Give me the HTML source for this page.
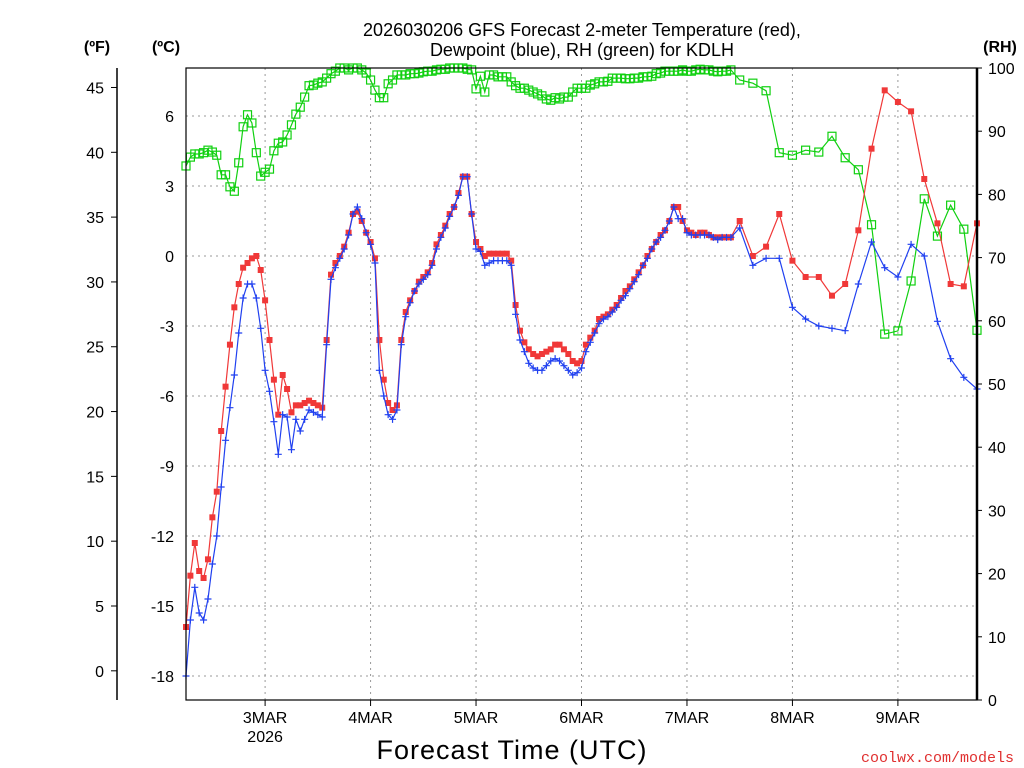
<!DOCTYPE html>
<html><head><meta charset="utf-8"><style>
html,body{margin:0;padding:0;background:#fff;}
svg{display:block;font-family:"Liberation Sans",sans-serif;}
</style></head><body>
<svg id="chart" width="1024" height="768" viewBox="0 0 1024 768">
<rect x="0" y="0" width="1024" height="768" fill="#fff"/>
<g id="grid"></g>
<g id="series"></g>
<g id="axes"></g>
<text x="582" y="36" text-anchor="middle" font-size="18">2026030206 GFS Forecast 2-meter Temperature (red),</text>
<text x="582" y="56" text-anchor="middle" font-size="18">Dewpoint (blue), RH (green) for KDLH</text>
<text x="97" y="52" text-anchor="middle" font-size="16" font-weight="bold">(ºF)</text>
<text x="166" y="52" text-anchor="middle" font-size="16" font-weight="bold">(ºC)</text>
<text x="1000" y="52" text-anchor="middle" font-size="16" font-weight="bold">(RH)</text>
<text x="512" y="759" text-anchor="middle" font-size="27" letter-spacing="1">Forecast Time (UTC)</text>
<text x="1014" y="762" text-anchor="end" font-size="15" fill="#e03030" font-family="Liberation Mono, monospace">coolwx.com/models</text>
</svg>
<script>
const tempC = [
-15.9,-13.7,-12.3,-13.5,-13.8,-13.0,-11.2,-10.1,-7.5,-5.6,
-3.8,-2.2,-1.2,-0.5,-0.3,-0.1,0.0,-0.6,-1.9,-3.6,
-5.3,-6.8,-5.1,-5.7,-6.7,-6.4,-6.4,-6.3,-6.2,-6.3,
-6.4,-6.5,-3.6,-0.8,-0.3,0.0,0.4,1.0,1.8,1.9,
1.5,1.0,0.6,-0.1,-3.6,-5.3,-6.3,-6.6,-6.4,-3.6,
-2.4,-1.9,-1.5,-1.1,-0.9,-0.7,-0.3,0.5,0.9,1.3,
1.8,2.1,2.7,3.4,3.4,1.8,0.6,0.3,0.0,0.1,
0.1,0.1,0.1,0.1,-0.2,-2.1,-3.2,-3.7,-4.0,-4.2,
-4.3,-4.2,-4.1,-4.0,-3.8,-3.8,-4.0,-4.2,-4.5,-4.6,
-4.5,-3.8,-3.5,-3.2,-2.7,-2.6,-2.5,-2.3,-2.1,-1.8,
-1.5,-1.3,-1.0,-0.7,-0.4,0.0,0.3,0.6,0.9,1.1,
1.5,2.1,2.1,1.5,1.1,1.0,0.9,1.0,1.0,0.9,
0.8,0.8,0.8,0.8,0.8,
1.5,0.0,0.4,1.8,-0.2,-0.9,-0.9,-1.7,-1.2,1.1,4.6,7.1,6.6,6.2,3.3,1.4,-1.2,-1.3,1.4];
const dewC = [
-18.0,-15.6,-14.2,-15.3,-15.6,-14.7,-13.2,-12.0,-9.9,-7.9,
-6.5,-5.1,-3.3,-1.8,-1.2,-1.2,-1.8,-3.1,-4.9,-5.8,
-7.1,-8.5,-6.8,-6.9,-8.3,-7.0,-7.5,-7.0,-6.6,-6.7,
-6.8,-6.9,-3.8,-1.0,-0.5,-0.1,0.3,0.9,1.8,2.1,
1.6,1.0,0.5,-0.3,-4.9,-6.0,-6.8,-7.0,-6.6,-3.8,
-2.6,-2.0,-1.5,-1.2,-1.0,-0.8,-0.4,0.3,0.8,1.2,
1.7,2.1,2.6,3.4,3.4,1.8,0.3,0.2,-0.4,-0.3,
-0.2,-0.2,-0.2,-0.2,-0.4,-2.5,-3.6,-4.1,-4.6,-4.8,
-4.9,-4.9,-4.7,-4.5,-4.4,-4.5,-4.7,-4.9,-5.1,-5.0,
-4.8,-4.1,-3.7,-3.3,-2.9,-2.7,-2.6,-2.4,-2.2,-1.9,
-1.7,-1.4,-1.1,-0.8,-0.4,-0.1,0.3,0.6,0.8,1.1,
1.5,2.1,1.6,1.6,1.0,0.9,0.9,0.9,0.9,0.9,
0.8,0.7,0.8,0.8,0.8,
1.2,-0.4,-0.1,-0.1,-2.2,-2.7,-3.0,-3.1,-3.2,-1.2,0.6,-0.5,-0.9,0.5,0.0,-2.8,-4.4,-5.2,-5.7];
const rhPct = [
84.5,85.9,86.4,86.4,86.6,87.0,86.7,86.2,83.1,83.1,
81.2,80.5,85.0,90.7,92.6,91.3,86.6,82.9,83.5,84.0,
86.9,88.1,88.3,89.4,91.0,92.7,93.8,95.4,97.2,97.3,
97.6,97.8,98.4,99.1,99.5,100,100,99.7,100,100,
99.7,99.2,98.1,96.5,95.3,95.3,97.5,98.1,98.9,98.9,
98.9,99.1,99.1,99.2,99.4,99.5,99.5,99.7,99.8,99.8,
100,100,100,100,99.8,99.7,96.7,98.7,96.2,98.9,
98.9,98.6,98.6,98.6,97.8,97.2,96.8,96.8,96.5,96.2,
95.9,95.6,95.1,94.9,95.3,95.1,95.4,95.4,96.2,96.8,
96.8,96.8,97.3,97.5,97.8,97.8,97.9,98.4,98.4,98.4,
98.3,98.3,98.4,98.4,98.6,98.6,98.7,99.1,99.2,99.5,
99.5,99.5,99.5,99.7,99.5,99.5,99.7,99.8,99.7,99.7,
99.5,99.4,99.5,99.5,99.7,
98.1,97.6,96.4,86.6,86.2,87.0,86.7,89.2,85.8,83.9,75.2,57.9,58.4,66.3,79.3,73.4,78.3,74.5,58.5];
const dayLabels = ["3MAR","4MAR","5MAR","6MAR","7MAR","8MAR","9MAR"];
const dayHours = [18,42,66,90,114,138,162];
const cTicks = [-18,-15,-12,-9,-6,-3,0,3,6];
const fTicks = [0,5,10,15,20,25,30,35,40,45];
const rhTicks = [0,10,20,30,40,50,60,70,80,90,100];

// time axis: hourly to 124h, then 3-hourly
const hours = [];
for (let i = 0; i < 125; i++) hours.push(i);
for (let h = 126; h <= 180; h += 3) hours.push(h);

const X0 = 186, X1 = 977, Y0 = 68, Y1 = 700;
const xOf = h => X0 + (h / 180) * (X1 - X0);
const yC = c => 256 - c * (70 / 3);
const yF = f => yC((f - 32) * 5 / 9);
const yRH = r => Y1 - r / 100 * (Y1 - Y0);
const NS = "http://www.w3.org/2000/svg";
function mk(tag, attrs, parent) {
  const e = document.createElementNS(NS, tag);
  for (const k in attrs) e.setAttribute(k, attrs[k]);
  parent.appendChild(e);
  return e;
}
const grid = document.getElementById('grid');
const axes = document.getElementById('axes');
const ser = document.getElementById('series');

cTicks.forEach(c => {
  const l = mk('line', {x1: X0, x2: X1, y1: yC(c), y2: yC(c), stroke: '#999', 'stroke-dasharray': '2,4'}, grid);
  
  
  const t = mk('text', {x: 174, y: yC(c) + 6, 'text-anchor': 'end', 'font-size': 16}, axes);
  t.textContent = c;
  
  
});
dayHours.forEach((h, i) => {
  const l = mk('line', {x1: xOf(h), x2: xOf(h), y1: Y0, y2: Y1, stroke: '#999', 'stroke-dasharray': '2,4'}, grid);
  
  
  const tk = mk('line', {x1: xOf(h), x2: xOf(h), y1: Y1, y2: Y1 + 6, stroke: '#000'}, axes);
  
  
  const t = mk('text', {x: xOf(h), y: 723, 'text-anchor': 'middle', 'font-size': 16}, axes);
  t.textContent = dayLabels[i];
  
  
});
const yr = mk('text', {x: xOf(dayHours[0]), y: 742, 'text-anchor': 'middle', 'font-size': 16}, axes);
yr.textContent = '2026';



const fAxis = mk('line', {x1: 117, x2: 117, y1: Y0, y2: Y1, stroke: '#000', 'stroke-width': 1.5}, axes);


fTicks.forEach(f => {
  const tk = mk('line', {x1: 111, x2: 117, y1: yF(f), y2: yF(f), stroke: '#000'}, axes);
  
  
  const t = mk('text', {x: 104, y: yF(f) + 6, 'text-anchor': 'end', 'font-size': 16}, axes);
  t.textContent = f;
  
  
});
rhTicks.forEach(r => {
  const tk = mk('line', {x1: X1, x2: X1 + 5, y1: yRH(r), y2: yRH(r), stroke: '#000'}, axes);
  
  
  const t = mk('text', {x: 988, y: yRH(r) + 6, 'font-size': 16}, axes);
  t.textContent = r;
  
  
});
const frame = mk('rect', {x: X0, y: Y0, width: X1 - X0, height: Y1 - Y0, fill: 'none', stroke: '#000', 'stroke-width': 1.2}, axes);


const rAxis = mk('line', {x1: X1, x2: X1, y1: Y0, y2: Y1, stroke: '#000', 'stroke-width': 2.5}, axes);



function drawSeries(vals, yfn, color, marker, name) {
  const pts = vals.map((v, i) => xOf(hours[i]).toFixed(1) + ',' + yfn(v).toFixed(1)).join(' ');
  const pl = mk('polyline', {points: pts, fill: 'none', stroke: color, 'stroke-width': 1.2}, ser);
  
  
  vals.forEach((v, i) => {
    const x = xOf(hours[i]), y = yfn(v);
    let m;
    if (marker === 'fill') m = mk('rect', {x: x - 3, y: y - 3, width: 6, height: 6, fill: color}, ser);
    else if (marker === 'open') m = mk('rect', {x: x - 4, y: y - 4, width: 8, height: 8, fill: 'none', stroke: color, 'stroke-width': 1.2}, ser);
    else m = mk('path', {d: `M${x-3.5},${y}H${x+3.5}M${x},${y-3.5}V${y+3.5}`, stroke: color, 'stroke-width': 1.2}, ser);
    
    
  });
}
drawSeries(rhPct, yRH, '#10d010', 'open', 'rh');
drawSeries(tempC, yC, '#f03838', 'fill', 'temperature');
drawSeries(dewC, yC, '#2040f0', 'plus', 'dewpoint');
</script>
</body></html>
